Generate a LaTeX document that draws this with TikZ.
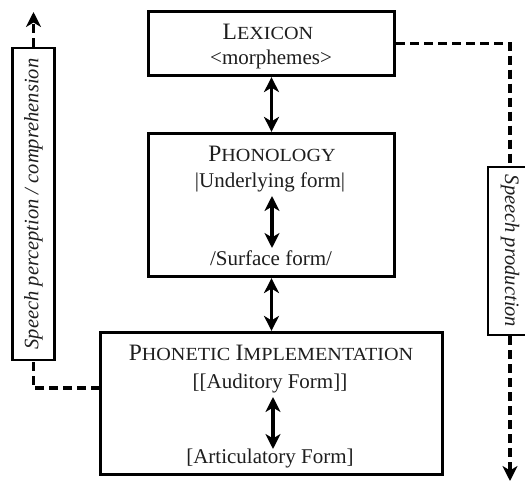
\documentclass[tikz,border=0pt]{standalone}
\usepackage{fontspec}
\setmainfont{Liberation Serif}
\usetikzlibrary{arrows.meta}
\definecolor{ink}{HTML}{1E1E1E}
% fake small capitals: full-size initial, wider reduced capitals
\newcommand{\bigsc}[1]{{\fontsize{23.5}{23.5}\selectfont #1}}
\newcommand{\smsc}[1]{{\fontsize{18.5}{18.5}\selectfont\addfontfeature{FakeStretch=1.09}#1}}
\begin{document}
\begin{tikzpicture}[x=1pt,y=-1pt,
  box/.style={draw=black,line width=3.2pt,fill=white,inner sep=0pt},
  txt/.style={text=ink,font=\fontsize{21}{21}\selectfont,anchor=base,inner sep=0pt},
  side/.style={draw=black,line width=2.2pt,fill=white,inner sep=0pt,
               text=ink,font=\fontsize{20.5}{20.5}\itshape},
  tip/.tip={Stealth[length=15pt,width=15pt,inset=4.5pt]},
  link/.style={line width=3.2pt,tip-tip},
  dashline/.style={line width=3.2pt,dash pattern=on 9pt off 5pt},
  flow/.style={dashline,-tip}]
\useasboundingbox (0,0) rectangle (525,484);

% the three levels
\node[box,minimum width=246pt,minimum height=64pt] (lex) at (271.5,43.5) {};
\node[box,minimum width=246pt,minimum height=143pt] (phon) at (271.5,205) {};
\node[box,minimum width=342pt,minimum height=142pt] (phi) at (271.5,403.5) {};

% level labels
\node[txt] (lexT) at (268,40) {\bigsc{L}\smsc{EXICON}};
\node[txt] (lexM) at (271,65) {<morphemes>};
\node[txt] (phonT) at (272,162) {\bigsc{P}\smsc{HONOLOGY}};
\node[txt] (und) at (270,188) {|Underlying form|};
\node[txt] (surf) at (271,265) {/Surface form/};
\node[txt] (phiT) at (271,360) {\bigsc{P}\smsc{HONETIC} \bigsc{I}\smsc{MPLEMENTATION}};
\node[txt] (aud) at (270,388) {[[Auditory Form]]};
\node[txt] (art) at (270,463) {[Articulatory Form]};

% interfaces between levels
\draw[link] (lex.south) -- (phon.north);
\draw[link] (phon.south) -- (phi.north);
\coordinate (u1) at (272,196);
\coordinate (u2) at (272,248);
\draw[link] (u1) -- (u2);
\coordinate (a1) at (273,397);
\coordinate (a2) at (273,449);
\draw[link] (a1) -- (a2);

% processing directions (rotated labels: east/west follow the text)
\node[side,rotate=90,minimum width=312pt,minimum height=42pt] (perc) at (33.5,204)
  {Speech perception / comprehension};
\node[side,rotate=-90,minimum width=168pt,minimum height=44pt] (prod) at (510,251)
  {Speech production};

\coordinate (lj) at (100,388);
\coordinate (lt) at (33.5,12);
\coordinate (rb) at (510,481);
\draw[dashline] (lj) -| (perc.west);
\draw[flow] (perc.east) -- (lt);
\draw[dashline] (lex.east) -| (prod.west);
\draw[flow] (prod.east) -- (rb);
\end{tikzpicture}
\end{document}
